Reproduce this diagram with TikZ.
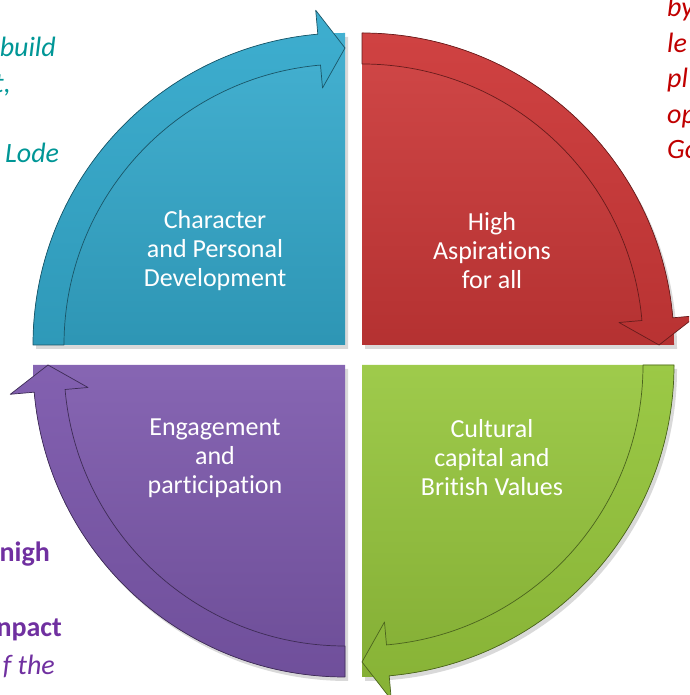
\documentclass[tikz,border=0pt]{standalone}
\usepackage{fontspec}
\setmainfont[Ligatures=NoCommon]{Carlito}
\usepackage{tikz}
\usetikzlibrary{arrows,positioning}
\definecolor{capCyan}{RGB}{52,170,205}
\definecolor{capRed}{RGB}{205,56,56}
\definecolor{capGreen}{RGB}{150,198,60}
\definecolor{capPurple}{RGB}{124,88,172}
\definecolor{noteTeal}{RGB}{0,150,150}
\definecolor{noteRed}{RGB}{192,0,0}
\definecolor{notePurple}{RGB}{112,48,160}
\tikzset{every node/.append style={transform shape=false}}
\tikzset{QuadText/.style={text=white, align=center, font=\fontsize{26}{29}\selectfont}}
\tikzset{NoteIt/.style={inner sep=0pt, font=\fontsize{28}{34}\selectfont\itshape}}
\tikzset{NoteBf/.style={inner sep=0pt, font=\fontsize{28}{34}\selectfont\bfseries}}

\begin{document}
\begin{tikzpicture}[x=1pt,y=1pt]
\useasboundingbox (0,0) rectangle (689,695);
\clip (0,0) rectangle (689,695);
% text of the slide behind, cut off by the edges
\node[NoteIt, text=noteTeal, anchor=base east] (build) at (56,638) {build};
\node[NoteIt, text=noteTeal, anchor=base east] (comma) at (11,602) {t,};
\node[NoteIt, text=noteTeal, anchor=base west] (lode) at (5,532) {Lode};
\foreach \w [count=\i] in {by,le,pl,op,Go}
\node[NoteIt, text=noteRed, anchor=base west] (red\i) at (667,{678 - 35.5*(\i-1)}) {\w};
\node[NoteBf, text=notePurple, anchor=base east] (nigh) at (50,133) {nigh};
\node[NoteBf, text=notePurple, anchor=base east] (npact) at (62,58) {npact};
\node[NoteIt, text=notePurple, anchor=base east] (fthe) at (55,20) {f the};

% four quarters, each with its arrow on the rim
\foreach \cx/\cy/\a/\col in {345/350/180/capCyan, 362/350/90/capRed, 362/330/0/capGreen, 345/330/-90/capPurple}
{
\begin{scope}[shift={(\cx,\cy)}]
\fill[black, opacity=.15] (3,-4) -- ++(\a:312) arc[start angle=\a, end angle=\a-90, radius=312] -- cycle;
\shade[top color=\col!92!white, bottom color=\col!88!black]
  (0,0) -- (\a:312) arc[start angle=\a, end angle=\a-90, radius=312] -- cycle;
\shade[top color=\col!95!white, bottom color=\col!90!black]
  (\a:281) -- (\a:312) arc[start angle=\a, end angle=\a-85, radius=312]
  -- (\a-85:336) -- (\a-90:297) -- (\a-85:258) -- (\a-85:281)
  arc[start angle=\a-85, end angle=\a, radius=281] -- cycle;
\draw[\col!50!black, line width=.7pt, line join=round]
  (\a:281) -- (\a:312) arc[start angle=\a, end angle=\a-85, radius=312]
  -- (\a-85:336) -- (\a-90:297) -- (\a-85:258) -- (\a-85:281)
  arc[start angle=\a-85, end angle=\a, radius=281] -- cycle;
\end{scope}
}

\node[QuadText] (character) at (215,444) {Character\\and Personal\\Development};
\node[QuadText] (aspirations) at (492,444) {High\\Aspirations\\for all};
\node[QuadText] (cultural) at (492,237) {Cultural\\capital and\\British Values};
\node[QuadText] (engagement) at (215,237) {Engagement\\and\\participation};
\end{tikzpicture}
\end{document}
